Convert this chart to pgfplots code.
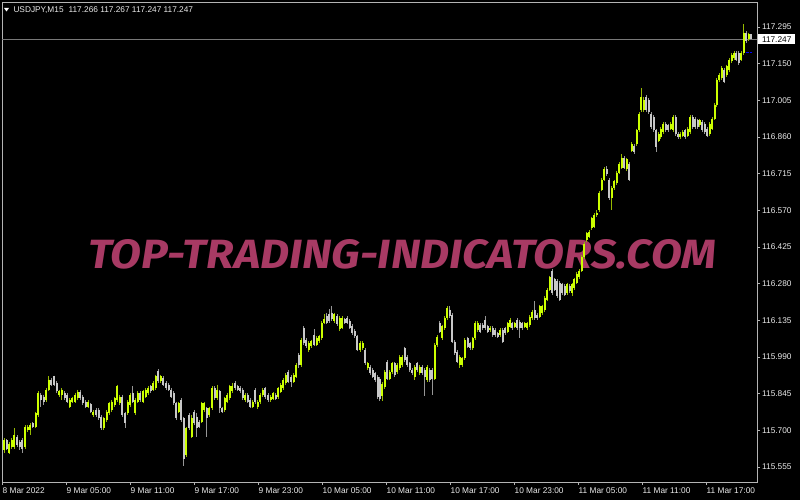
\documentclass[border=0pt]{standalone}
\usepackage{pgfplots}
\pgfplotsset{compat=1.18}
\usepackage{pgfplotstable}
\usepackage{graphicx}
\usepackage{fontspec}
\setmainfont{Liberation Sans}
\newfontfamily\wmfont{Fira Sans}

\definecolor{bull}{RGB}{204,255,0}
\definecolor{bear}{RGB}{200,200,200}
\definecolor{bullw}{RGB}{150,185,0}
\definecolor{bearw}{RGB}{150,150,150}
\definecolor{framec}{RGB}{180,180,180}
\definecolor{lab}{RGB}{235,235,235}
\definecolor{wmc}{RGB}{168,58,100}
\definecolor{pline}{RGB}{120,120,120}

\pgfplotstableread{
x O H L C
4.0 115.621 115.668 115.612 115.661
9.3 115.612 115.654 115.605 115.648
11.9 115.634 115.668 115.628 115.661
14.5 115.634 115.708 115.628 115.681
25.0 115.634 115.721 115.628 115.714
27.7 115.701 115.721 115.694 115.714
30.3 115.701 115.728 115.681 115.721
35.6 115.714 115.774 115.708 115.768
38.2 115.761 115.854 115.754 115.848
46.1 115.821 115.868 115.814 115.861
48.7 115.861 115.914 115.854 115.901
59.2 115.841 115.861 115.834 115.854
61.9 115.841 115.868 115.821 115.861
69.8 115.794 115.828 115.788 115.821
72.4 115.814 115.834 115.808 115.828
75.0 115.814 115.848 115.808 115.841
77.6 115.828 115.861 115.821 115.851
88.2 115.794 115.821 115.788 115.814
93.4 115.761 115.781 115.754 115.774
103.9 115.708 115.754 115.701 115.748
106.6 115.741 115.781 115.734 115.774
109.2 115.768 115.814 115.761 115.808
111.8 115.781 115.821 115.774 115.814
114.5 115.801 115.834 115.794 115.828
117.1 115.821 115.881 115.814 115.874
119.7 115.808 115.841 115.801 115.834
127.6 115.768 115.821 115.761 115.814
130.2 115.801 115.848 115.794 115.841
135.3 115.768 115.828 115.761 115.821
137.9 115.814 115.854 115.808 115.848
143.0 115.814 115.861 115.808 115.854
145.5 115.834 115.868 115.828 115.861
148.1 115.848 115.874 115.841 115.868
153.2 115.861 115.894 115.854 115.888
155.8 115.868 115.921 115.861 115.914
160.9 115.894 115.921 115.888 115.914
178.8 115.774 115.814 115.768 115.808
186.4 115.601 115.714 115.594 115.708
191.5 115.674 115.761 115.668 115.748
201.8 115.734 115.814 115.728 115.808
204.3 115.781 115.814 115.774 115.808
209.4 115.761 115.794 115.754 115.788
212.0 115.788 115.874 115.781 115.868
217.1 115.828 115.881 115.821 115.861
224.8 115.781 115.834 115.774 115.828
227.3 115.814 115.848 115.808 115.841
229.9 115.828 115.881 115.821 115.874
232.4 115.854 115.888 115.848 115.874
245.2 115.821 115.848 115.814 115.841
252.9 115.794 115.821 115.788 115.814
257.8 115.792 115.819 115.786 115.812
260.3 115.812 115.846 115.806 115.839
262.9 115.839 115.866 115.832 115.859
270.5 115.819 115.839 115.812 115.832
273.1 115.826 115.852 115.819 115.846
278.2 115.832 115.872 115.826 115.866
280.8 115.852 115.886 115.846 115.879
283.3 115.866 115.906 115.859 115.899
285.9 115.886 115.926 115.879 115.919
293.5 115.892 115.926 115.886 115.919
296.1 115.912 115.966 115.906 115.959
301.2 115.959 116.066 115.952 116.059
308.9 116.019 116.052 116.012 116.046
311.4 116.032 116.059 116.026 116.052
316.5 116.039 116.072 116.032 116.066
319.1 116.052 116.079 116.046 116.072
321.7 116.066 116.132 116.059 116.126
324.2 116.126 116.159 116.119 116.139
334.4 116.132 116.166 116.126 116.159
339.6 116.099 116.152 116.092 116.146
342.1 116.106 116.152 116.099 116.146
360.0 116.019 116.052 116.012 116.046
362.6 116.026 116.052 116.019 116.046
367.7 115.946 115.972 115.939 115.966
382.1 115.838 115.891 115.818 115.885
384.6 115.871 115.938 115.865 115.931
389.6 115.905 115.938 115.898 115.931
392.2 115.931 115.971 115.925 115.965
397.2 115.931 115.965 115.925 115.958
399.7 115.945 115.998 115.938 115.991
402.2 115.958 115.998 115.951 115.991
414.7 115.911 115.958 115.898 115.951
419.8 115.925 115.958 115.918 115.951
427.3 115.898 115.958 115.891 115.951
434.8 115.905 116.045 115.898 116.038
437.3 116.038 116.078 116.031 116.071
442.4 116.065 116.118 116.058 116.111
444.9 116.105 116.151 116.098 116.145
447.4 116.145 116.191 116.138 116.185
459.9 115.958 115.998 115.945 115.991
462.4 115.958 115.991 115.951 115.985
464.9 115.985 116.065 115.978 116.058
472.5 116.025 116.071 116.018 116.065
475.0 116.065 116.131 116.058 116.125
477.5 116.098 116.131 116.091 116.125
490.0 116.098 116.111 116.091 116.105
500.1 116.078 116.105 116.071 116.098
507.5 116.090 116.130 116.084 116.124
510.0 116.110 116.144 116.104 116.137
514.9 116.110 116.130 116.104 116.124
524.8 116.110 116.130 116.104 116.124
527.3 116.104 116.130 116.097 116.124
529.8 116.117 116.157 116.110 116.150
532.3 116.144 116.177 116.137 116.170
539.7 116.150 116.197 116.144 116.190
542.2 116.164 116.197 116.157 116.190
544.7 116.177 116.230 116.170 116.224
547.2 116.217 116.264 116.210 116.257
549.6 116.257 116.312 116.250 116.305
567.0 116.244 116.284 116.237 116.277
572.0 116.244 116.284 116.230 116.277
574.4 116.264 116.304 116.257 116.297
576.9 116.284 116.325 116.277 116.319
579.4 116.305 116.339 116.297 116.332
581.9 116.332 116.392 116.325 116.385
584.4 116.385 116.445 116.379 116.439
586.8 116.452 116.485 116.445 116.479
589.3 116.465 116.492 116.459 116.485
591.8 116.499 116.545 116.492 116.539
594.3 116.505 116.559 116.499 116.552
596.8 116.552 116.572 116.545 116.559
599.2 116.572 116.645 116.565 116.639
601.7 116.652 116.699 116.645 116.692
604.2 116.692 116.740 116.685 116.733
611.6 116.619 116.665 116.572 116.659
614.1 116.659 116.692 116.652 116.685
616.6 116.679 116.726 116.672 116.719
619.1 116.719 116.760 116.713 116.753
621.6 116.739 116.793 116.733 116.779
626.5 116.733 116.779 116.726 116.773
631.7 116.806 116.840 116.799 116.833
636.6 116.833 116.893 116.826 116.886
639.0 116.886 116.959 116.879 116.953
641.4 116.966 117.053 116.959 117.019
643.9 116.966 117.019 116.959 117.006
658.5 116.846 116.879 116.839 116.873
660.9 116.859 116.899 116.853 116.893
663.4 116.879 116.919 116.873 116.913
670.7 116.893 116.919 116.886 116.913
673.1 116.886 116.946 116.879 116.939
680.4 116.859 116.879 116.853 116.873
682.8 116.866 116.886 116.859 116.879
687.7 116.866 116.899 116.859 116.893
690.1 116.879 116.946 116.873 116.939
699.9 116.906 116.933 116.899 116.926
709.6 116.873 116.919 116.866 116.913
712.1 116.893 116.939 116.886 116.933
714.5 116.933 116.993 116.926 116.986
716.9 116.986 117.093 116.979 117.086
719.4 117.086 117.113 117.079 117.106
721.8 117.093 117.139 117.086 117.133
726.7 117.106 117.146 117.099 117.139
729.1 117.126 117.173 117.119 117.166
731.6 117.159 117.193 117.153 117.186
734.0 117.173 117.199 117.166 117.193
741.3 117.166 117.199 117.159 117.193
743.7 117.193 117.306 117.186 117.273
748.6 117.246 117.273 117.239 117.266
}\bulltab

\pgfplotstableread{
x O H L C
6.6 115.661 115.665 115.621 115.628
17.2 115.674 115.681 115.634 115.641
19.8 115.654 115.661 115.621 115.634
22.4 115.661 115.668 115.612 115.628
32.9 115.728 115.734 115.708 115.714
40.8 115.841 115.848 115.794 115.821
43.5 115.834 115.841 115.801 115.814
51.3 115.901 115.908 115.874 115.881
54.0 115.914 115.917 115.874 115.881
56.6 115.888 115.894 115.848 115.854
64.5 115.848 115.854 115.821 115.828
67.1 115.841 115.848 115.808 115.814
80.3 115.851 115.858 115.821 115.828
82.9 115.834 115.841 115.801 115.808
85.5 115.814 115.821 115.788 115.794
90.8 115.804 115.808 115.768 115.774
96.1 115.781 115.788 115.754 115.761
98.7 115.781 115.788 115.741 115.748
101.3 115.754 115.761 115.701 115.708
122.4 115.834 115.841 115.754 115.761
125.0 115.768 115.774 115.708 115.728
132.8 115.848 115.874 115.808 115.814
140.4 115.848 115.854 115.814 115.821
150.6 115.874 115.881 115.848 115.854
158.3 115.934 115.941 115.888 115.894
163.4 115.908 115.914 115.874 115.881
166.0 115.888 115.894 115.861 115.868
168.5 115.881 115.888 115.854 115.861
171.1 115.861 115.868 115.828 115.834
173.7 115.848 115.854 115.801 115.808
176.2 115.808 115.814 115.741 115.748
181.3 115.821 115.828 115.734 115.741
183.9 115.748 115.754 115.561 115.588
189.0 115.761 115.768 115.701 115.708
194.1 115.774 115.781 115.721 115.728
196.7 115.754 115.768 115.674 115.708
199.2 115.734 115.741 115.708 115.714
206.9 115.788 115.794 115.674 115.748
214.6 115.868 115.874 115.821 115.828
219.7 115.854 115.861 115.768 115.788
222.2 115.788 115.794 115.768 115.774
235.0 115.888 115.894 115.861 115.868
237.6 115.874 115.881 115.854 115.861
240.1 115.868 115.874 115.848 115.854
242.7 115.861 115.868 115.821 115.828
247.8 115.841 115.848 115.808 115.814
250.3 115.821 115.828 115.788 115.794
255.2 115.859 115.866 115.806 115.812
265.4 115.866 115.872 115.826 115.832
268.0 115.839 115.846 115.812 115.819
275.6 115.839 115.846 115.819 115.826
288.4 115.932 115.939 115.886 115.892
291.0 115.912 115.919 115.872 115.892
298.7 115.999 116.006 115.946 115.959
303.8 116.106 116.112 116.039 116.046
306.3 116.059 116.066 116.026 116.032
314.0 116.079 116.099 116.032 116.039
326.8 116.152 116.166 116.119 116.126
329.3 116.159 116.179 116.126 116.132
331.9 116.166 116.192 116.132 116.139
337.0 116.152 116.159 116.112 116.119
344.7 116.139 116.146 116.119 116.126
347.2 116.146 116.152 116.119 116.126
349.8 116.132 116.139 116.099 116.106
352.3 116.112 116.119 116.079 116.086
354.9 116.092 116.099 116.066 116.072
357.4 116.072 116.079 116.012 116.019
365.1 116.019 116.026 115.959 115.966
370.2 115.952 115.959 115.919 115.926
372.8 115.939 115.946 115.906 115.912
375.3 115.926 115.932 115.892 115.899
377.9 115.912 115.919 115.826 115.832
379.6 115.905 115.911 115.818 115.825
387.1 115.971 115.978 115.898 115.905
394.7 115.965 115.971 115.911 115.918
404.7 116.025 116.031 115.971 115.978
407.2 115.991 115.998 115.951 115.958
409.7 115.965 115.971 115.931 115.938
412.2 115.938 115.945 115.918 115.925
417.3 115.965 115.971 115.931 115.938
422.3 115.951 115.958 115.918 115.925
424.8 115.938 115.945 115.838 115.911
429.8 115.938 115.945 115.891 115.898
432.3 115.938 115.945 115.840 115.905
439.8 116.125 116.131 116.085 116.091
449.9 116.178 116.191 116.145 116.151
452.4 116.158 116.165 116.045 116.051
454.9 116.051 116.058 115.998 116.005
457.4 116.011 116.018 115.965 115.971
467.5 116.065 116.071 116.025 116.031
470.0 116.045 116.051 116.018 116.025
480.0 116.118 116.125 116.085 116.091
482.5 116.118 116.125 116.098 116.105
485.0 116.138 116.151 116.098 116.105
487.5 116.111 116.118 116.085 116.091
492.6 116.105 116.111 116.071 116.078
495.1 116.098 116.105 116.071 116.078
497.6 116.085 116.091 116.065 116.071
502.6 116.098 116.105 116.045 116.051
505.0 116.104 116.110 116.077 116.084
512.4 116.124 116.130 116.097 116.104
517.4 116.137 116.144 116.097 116.104
519.9 116.130 116.137 116.064 116.104
522.4 116.124 116.130 116.097 116.104
534.8 116.177 116.210 116.137 116.144
537.2 116.157 116.164 116.137 116.144
552.1 116.332 116.340 116.237 116.244
554.6 116.297 116.304 116.250 116.257
557.1 116.290 116.297 116.224 116.230
559.6 116.284 116.290 116.210 116.217
562.0 116.277 116.284 116.237 116.244
564.5 116.270 116.277 116.230 116.237
569.5 116.270 116.277 116.244 116.250
606.7 116.733 116.745 116.706 116.713
609.2 116.692 116.699 116.612 116.619
624.0 116.779 116.786 116.733 116.739
629.0 116.753 116.760 116.685 116.692
634.1 116.826 116.833 116.792 116.799
646.3 117.019 117.026 116.959 116.966
648.7 117.006 117.013 116.953 116.959
651.2 116.953 116.959 116.893 116.899
653.6 116.939 116.946 116.879 116.886
656.1 116.886 116.893 116.799 116.819
665.8 116.913 116.919 116.879 116.886
668.2 116.906 116.913 116.879 116.886
675.5 116.939 116.946 116.866 116.873
678.0 116.873 116.879 116.853 116.859
685.3 116.886 116.893 116.853 116.859
692.6 116.939 116.946 116.893 116.899
695.0 116.933 116.939 116.893 116.899
697.5 116.926 116.933 116.893 116.899
702.3 116.919 116.926 116.879 116.886
704.8 116.913 116.919 116.873 116.879
707.2 116.893 116.899 116.859 116.866
724.3 117.126 117.133 117.073 117.079
736.4 117.193 117.199 117.159 117.166
738.9 117.193 117.199 117.146 117.153
746.2 117.273 117.279 117.233 117.239
751.0 117.266 117.267 117.247 117.247
}\beartab

\begin{document}
\begin{tikzpicture}
\fill[black] (0pt,0pt) rectangle (800pt,500pt);
\node[anchor=base west, inner sep=0pt, text=wmc] at (88pt,231pt)
  {\resizebox{628pt}{29pt}{\wmfont\bfseries\itshape TOP-TRADING-INDICATORS.COM}};
\begin{axis}[
  at={(2pt,18pt)}, anchor=south west,
  scale only axis, width=755pt, height=480pt,
  xmin=2, xmax=757, ymin=115.496, ymax=117.394,
  axis line style={draw=framec, line width=0.9pt},
  tick style={draw=framec, line width=0.9pt},
  tick align=outside, major tick length=3pt,
  xtick pos=left, ytick pos=right, yticklabel pos=right,
  xtick={2,66,130,194,258,322,386,450,514,578,642,706},
  xticklabels={8 Mar 2022,9 Mar 05:00,9 Mar 11:00,9 Mar 17:00,9 Mar 23:00,10 Mar 05:00,10 Mar 11:00,10 Mar 17:00,10 Mar 23:00,11 Mar 05:00,11 Mar 11:00,11 Mar 17:00},
  ytick={115.555,115.700,115.845,115.990,116.135,116.280,116.425,116.570,116.715,116.860,117.005,117.150,117.295},
  yticklabels={115.555,115.700,115.845,115.990,116.135,116.280,116.425,116.570,116.715,116.860,117.005,117.150,117.295},
  xticklabel style={font=\fontsize{8.3}{9.6}\selectfont, text=lab, anchor=base west, inner sep=0pt, yshift=-8.3pt, xshift=0.5pt},
  yticklabel style={font=\fontsize{8.3}{9.6}\selectfont, text=lab, anchor=west, inner sep=0pt, xshift=2pt},
]
\addplot[pline, line width=1pt, forget plot] coordinates {(2,117.247) (757,117.247)};
\addplot[draw=none, mark=none, forget plot, error bars/.cd, y dir=minus, y explicit, error mark=none,
  error bar style={draw=bullw, line width=0.9pt, solid}]
  table[x=x, y=H, y error minus expr=\thisrow{H}-\thisrow{L}] {\bulltab};
\addplot[draw=none, mark=none, forget plot, error bars/.cd, y dir=minus, y explicit, error mark=none,
  error bar style={draw=bearw, line width=0.9pt, solid}]
  table[x=x, y=H, y error minus expr=\thisrow{H}-\thisrow{L}] {\beartab};
\addplot[draw=none, mark=none, forget plot, error bars/.cd, y dir=minus, y explicit, error mark=none,
  error bar style={draw=bull, line width=2pt, solid}]
  table[x=x, y=C, y error minus expr=\thisrow{C}-\thisrow{O}] {\bulltab};
\addplot[draw=none, mark=none, forget plot, error bars/.cd, y dir=minus, y explicit, error mark=none,
  error bar style={draw=bear, line width=2pt, solid}]
  table[x=x, y=O, y error minus expr=\thisrow{O}-\thisrow{C}] {\beartab};
\addplot[only marks, mark=-, mark size=1.2pt, color=blue, line width=1pt] coordinates {(747.5,117.196) (750.8,117.196)};
\coordinate (pl) at (axis cs:757,117.247);
\end{axis}
\node[anchor=west, fill=white, text=black, inner sep=0pt, minimum width=37pt, minimum height=10pt,
  font=\fontsize{8.3}{9.6}\selectfont] at ([xshift=1pt]pl) {117.247};
\fill[white] (4pt,492pt) -- (9pt,492pt) -- (6.5pt,488.5pt) -- cycle;
\node[anchor=base west, inner sep=0pt, text=lab, font=\fontsize{8.3}{9.6}\selectfont] at (13.3pt,487.3pt)
  {USDJPY,M15\hspace{5pt}117.266 117.267 117.247 117.247};
\pgfresetboundingbox
\path (0pt,0pt) rectangle (800pt,500pt);
\end{tikzpicture}
\end{document}
